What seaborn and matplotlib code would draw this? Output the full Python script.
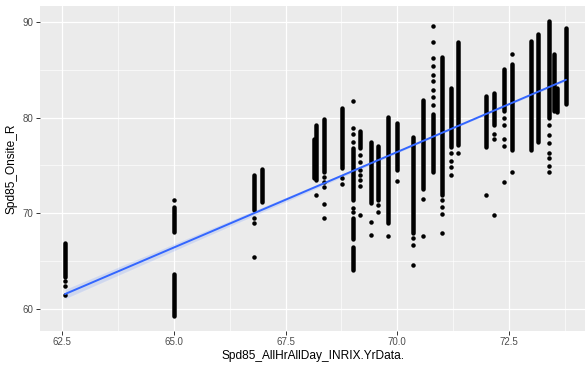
import matplotlib
matplotlib.use("Agg")
import matplotlib.pyplot as plt
from matplotlib.ticker import FixedLocator
import seaborn as sns
import pandas as pd
import numpy as np

sns.set_style("ticks")
plt.rcParams['font.family'] = ['Liberation Sans', 'DejaVu Sans']

# continuous runs of points (x, lowest y, highest y)
seg_x  = [62.57, 65.00, 65.00, 66.79, 66.97, 68.13, 68.19, 68.37, 68.76, 69.00, 69.00, 69.00,
          69.17, 69.40, 69.57, 69.79, 69.99, 70.34, 70.57, 70.79, 70.99, 71.19, 71.36, 71.98,
          72.17, 72.38, 72.56, 72.98, 73.14, 73.38, 73.51, 73.58, 73.77]
seg_lo = [63.4, 68.1, 59.3, 70.4, 71.2, 73.7, 73.5, 74.3, 74.7, 71.4, 67.3, 64.1,
          76.8, 71.1, 71.4, 69.0, 74.5, 68.0, 72.5, 74.3, 71.9, 76.9, 77.1, 76.9,
          79.2, 80.7, 76.6, 76.6, 77.4, 80.0, 80.7, 80.6, 81.4]
seg_hi = [66.9, 70.7, 63.7, 74.0, 74.6, 77.8, 79.2, 79.8, 81.0, 76.8, 69.5, 66.5,
          78.6, 77.4, 77.0, 80.1, 79.4, 78.0, 81.8, 80.4, 86.3, 83.1, 87.9, 82.2,
          82.6, 85.1, 85.6, 88.0, 88.7, 90.1, 86.6, 83.1, 89.3]
# estimated number of observations in each run
seg_n  = [30, 22, 55, 36, 34, 41, 57, 55, 63, 54, 30, 35,
          18, 70, 56, 130, 49, 140, 93, 61, 144, 62, 90, 53,
          34, 44, 90, 114, 113, 85, 59, 25, 60]

# isolated points
dot_x = ([62.57] * 3 + [65.00] + [66.79] * 3 + [68.19] + [68.37] * 5 + [68.76] * 2 +
         [69.00] * 6 + [69.17] * 7 + [69.40] * 2 + [69.57] * 2 + [69.79] + [69.99] +
         [70.34] * 3 + [70.57] * 2 + [70.79] * 9 + [70.99] * 4 + [71.19] * 4 + [71.36] +
         [71.98] + [72.17] * 3 + [72.38] * 5 + [72.56] * 2 + [73.38] * 7)
dot_y = [62.9, 62.4, 61.5,
         71.4,
         69.5, 69.0, 65.4,
         71.9,
         73.8, 73.3, 72.8, 71.0, 69.5,
         73.7, 73.1,
         81.7, 78.9, 78.3, 77.4, 70.6, 70.1,
         76.1, 75.4, 74.5, 74.0, 73.5, 72.9, 69.8,
         69.1, 67.7,
         70.9, 70.1,
         67.6,
         73.4,
         67.4, 66.7, 64.6,
         71.5, 67.6,
         89.6, 87.9, 86.2, 85.4, 84.4, 83.8, 82.9, 82.1, 81.3,
         71.4, 70.7, 69.9, 68.0,
         76.3, 75.5, 74.8, 74.0,
         76.3,
         71.9,
         78.3, 77.8, 69.8,
         80.0, 79.2, 77.8, 77.0, 73.3,
         86.6, 74.3,
         79.2, 78.2, 77.3, 76.3, 75.8, 74.9, 74.3]

segs = pd.DataFrame({'x': seg_x, 'lo': seg_lo, 'hi': seg_hi, 'n': seg_n})
dots = pd.DataFrame({'x': dot_x, 'y': dot_y})

# observations for the lm fit: each run counted n times at its centre
fit = pd.concat([
    pd.DataFrame({'x': np.repeat(segs['x'], segs['n']),
                  'y': np.repeat((segs['lo'] + segs['hi']) / 2, segs['n'])}),
    dots], ignore_index=True)

fig = plt.figure(figsize=(5.85, 3.69), dpi=100)
ax = fig.add_axes([40 / 585, 38.3 / 369, 551 / 585, 324.7 / 369])
ax.set_facecolor('#EBEBEB')

dsz = 3.24  # point diameter in pt
lc = ax.vlines(segs['x'], segs['lo'], segs['hi'], colors='black', lw=dsz, zorder=3)
lc.set_capstyle('round')
sns.scatterplot(data=dots, x='x', y='y', color='black', s=dsz ** 2, linewidth=0, ax=ax, zorder=3)

sns.regplot(data=fit, x='x', y='y', scatter=False, ci=95, seed=0, ax=ax,
            line_kws={'color': '#3366FF', 'lw': 1.4, 'zorder': 5})
for pc in ax.collections:
    if pc.__class__.__name__ == 'PolyCollection':
        pc.set_facecolor((0.6, 0.6, 0.6, 0.4))
        pc.set_zorder(4)

# ggplot-like limits (5% expansion)
xmin, xmax = min(seg_x + dot_x), max(seg_x + dot_x)
ymin, ymax = min(seg_lo + dot_y), max(seg_hi + dot_y)
ax.set_xlim(xmin - 0.05 * (xmax - xmin), xmax + 0.05 * (xmax - xmin))
ax.set_ylim(ymin - 0.05 * (ymax - ymin), ymax + 0.05 * (ymax - ymin))

ax.xaxis.set_major_locator(FixedLocator([62.5, 65.0, 67.5, 70.0, 72.5]))
ax.xaxis.set_minor_locator(FixedLocator([63.75, 66.25, 68.75, 71.25, 73.75]))
ax.yaxis.set_major_locator(FixedLocator([60, 70, 80, 90]))
ax.yaxis.set_minor_locator(FixedLocator([65, 75, 85]))
ax.set_xticklabels(['62.5', '65.0', '67.5', '70.0', '72.5'])
ax.grid(which='major', color='white', lw=0.9)
ax.grid(which='minor', color='white', lw=0.45)
ax.set_axisbelow(True)
ax.tick_params(which='major', length=2.6, width=0.7, color='#333333', labelcolor='#4D4D4D',
               labelsize=7, pad=2)
ax.tick_params(which='minor', length=0)
for s in ax.spines.values():
    s.set_visible(False)

ax.set_xlabel('Spd85_AllHrAllDay_INRIX.YrData.', fontsize=8.6, color='black')
ax.set_ylabel('Spd85_Onsite_R', fontsize=8.6, color='black')
ax.xaxis.set_label_coords((312.5 - 40) / 551, -(349.5 - 330.7) / 324.7)
ax.yaxis.set_label_coords(-(40 - 17.5) / 551, 0.5)

fig.savefig('out.png', dpi=100)
